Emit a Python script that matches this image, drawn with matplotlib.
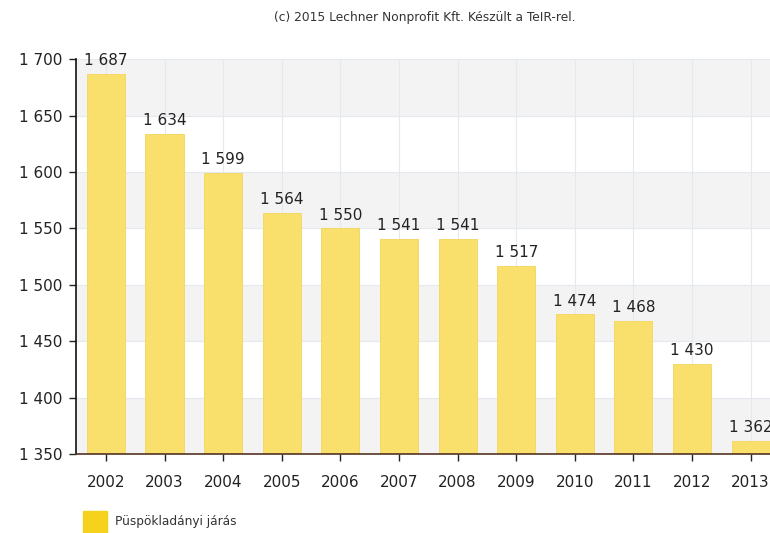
# population of Püspökladányi járás, TeIR style bar chart
import matplotlib as mpl
import matplotlib.pyplot as plt
from matplotlib.patches import Rectangle

# data
years = ['2002', '2003', '2004', '2005', '2006', '2007', '2008',
         '2009', '2010', '2011', '2012', '2013']
values = [1687, 1634, 1599, 1564, 1550, 1541, 1541, 1517, 1474, 1468, 1430, 1362]
series_name = 'Püspökladányi járás'
title = '(c) 2015 Lechner Nonprofit Kft. Készült a TeIR-rel.'

mpl.rcParams['font.family'] = 'DejaVu Sans'

def fmt(v):
    return '{:,}'.format(v).replace(',', ' ')

fig = plt.figure(figsize=(7.7, 5.33), dpi=100, facecolor='white')
ax = fig.add_axes([0.0987, 0.148, 0.9013, 0.741])

ymin, ymax = 1350, 1700
ax.set_ylim(ymin, ymax)
ax.set_xlim(-0.51, 11.33)

# alternating bands
for i, y0 in enumerate(range(ymin, ymax, 50)):
    if i % 2 == 0:
        ax.axhspan(y0, y0 + 50, color='#f3f3f3', zorder=0, lw=0)

x = list(range(len(years)))
ax.grid(axis='both', color='#e4e9ef', linewidth=0.8, zorder=1)
ax.bar(x, [v - ymin for v in values], bottom=ymin, width=0.65,
       color='#f9df6b', edgecolor='#f5d65a', linewidth=0.6, zorder=2)

# value labels (the last one runs off the right edge, as in the original)
for xi, v in zip(x, values):
    ax.text(xi, v + 5, fmt(v), ha='center', va='bottom', fontsize=11,
            color='#222222', clip_on=False, zorder=3)

ax.set_yticks(range(ymin, ymax + 1, 50))
ax.set_yticklabels([fmt(v) for v in range(ymin, ymax + 1, 50)])
ax.set_xticks(x)
ax.set_xticklabels(years)
ax.tick_params(axis='both', labelsize=11, colors='#222222', length=5, width=1)
ax.tick_params(axis='x', pad=10)
ax.tick_params(axis='y', pad=5)

for s in ['top', 'right']:
    ax.spines[s].set_visible(False)
ax.spines['left'].set_color('#111111')
ax.spines['bottom'].set_color('#553322')
ax.spines['left'].set_linewidth(1.2)
ax.spines['bottom'].set_linewidth(1.2)
ax.set_axisbelow(True)

fig.text(0.552, 1 - 18 / 533, title, ha='center', va='center', fontsize=8.8, color='#333333')

# legend
fig.patches.append(Rectangle((83 / 770, 0), 24 / 770, 22 / 533, transform=fig.transFigure,
                             color='#f7d21c', figure=fig))
fig.text(115 / 770, 12 / 533, series_name, ha='left', va='center', fontsize=8.7,
         color='#333333')

plt.savefig('out.png', dpi=100)
